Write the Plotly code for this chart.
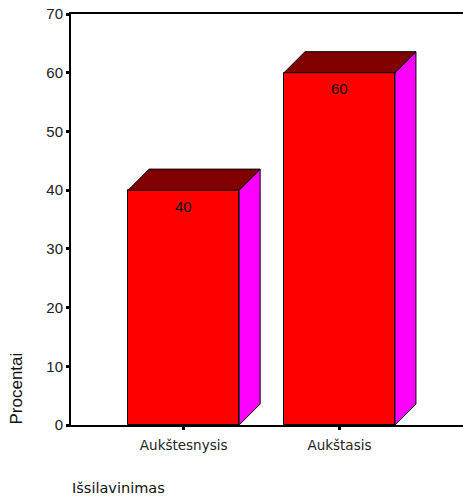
import plotly.graph_objects as go

# Education level distribution (percent)
categories = ["Aukštesnysis", "Aukštasis"]
values = [40, 60]
y_ticks = [0, 10, 20, 30, 40, 50, 60, 70]

FRONT = "#ff0000"
TOP = "#800000"
SIDE = "#ff00ff"
SANS = "Liberation Sans, Arial, sans-serif"
WIDE = "DejaVu Sans, Verdana, sans-serif"

xs = list(range(len(categories)))
half = 0.356          # half width of the bar front face (x units)
dx, dy = 0.135, 3.58  # depth offset of the 3D bars

fig = go.Figure()

# side and top faces of each bar, built from the bar values
for x, v in zip(xs, values):
    x0, x1 = x - half, x + half
    fig.add_trace(go.Scatter(
        x=[x1, x1 + dx, x1 + dx, x1, x1],
        y=[0, dy, v + dy, v, 0],
        fill="toself", fillcolor=SIDE, mode="lines",
        line=dict(color="black", width=1), hoverinfo="skip", showlegend=False))
    fig.add_trace(go.Scatter(
        x=[x0, x0 + dx, x1 + dx, x1, x0],
        y=[v, v + dy, v + dy, v, v],
        fill="toself", fillcolor=TOP, mode="lines",
        line=dict(color="black", width=1), hoverinfo="skip", showlegend=False))

# front faces
fig.add_trace(go.Bar(
    x=xs, y=values, width=2 * half,
    marker=dict(color=FRONT, line=dict(color="black", width=1)),
    showlegend=False, hoverinfo="skip"))

# value labels inside the front faces
for x, v in zip(xs, values):
    fig.add_annotation(x=x, y=v, text=str(v), showarrow=False,
                       yanchor="middle", yshift=-16,
                       font=dict(family=SANS, size=15, color="#111"))

fig.add_annotation(text="Procentai", xref="paper", yref="paper",
                   x=0, y=0, xanchor="right", yanchor="bottom",
                   xshift=-44, yshift=-2, textangle=-90, showarrow=False,
                   font=dict(family=SANS, size=17, color="#111"))
fig.add_annotation(text="Išsilavinimas", xref="paper", yref="paper",
                   x=0, y=0, xanchor="left", yanchor="middle",
                   xshift=-1, yshift=-63, showarrow=False,
                   font=dict(family=WIDE, size=14.5, color="#111"))

fig.update_layout(
    width=463, height=498,
    margin=dict(l=71, r=0, t=14, b=73),
    paper_bgcolor="white", plot_bgcolor="white",
    bargap=0,
    font=dict(family=SANS, size=12, color="black"),
    xaxis=dict(range=[-0.723, 1.793], tickvals=xs, ticktext=categories,
               showgrid=False, zeroline=False,
               showline=True, linecolor="black", linewidth=2, mirror=True,
               ticks="outside", ticklen=3, tickwidth=3, tickcolor="black",
               ticklabelstandoff=4,
               tickfont=dict(family=WIDE, size=13.5, color="#222")),
    yaxis=dict(range=[0, 70], tickvals=y_ticks,
               showgrid=False, zeroline=False,
               showline=True, linecolor="black", linewidth=2,
               ticks="outside", ticklen=3, tickwidth=3, tickcolor="black",
               tickfont=dict(family=SANS, size=15, color="#222")),
)

fig.write_html("out.html")
